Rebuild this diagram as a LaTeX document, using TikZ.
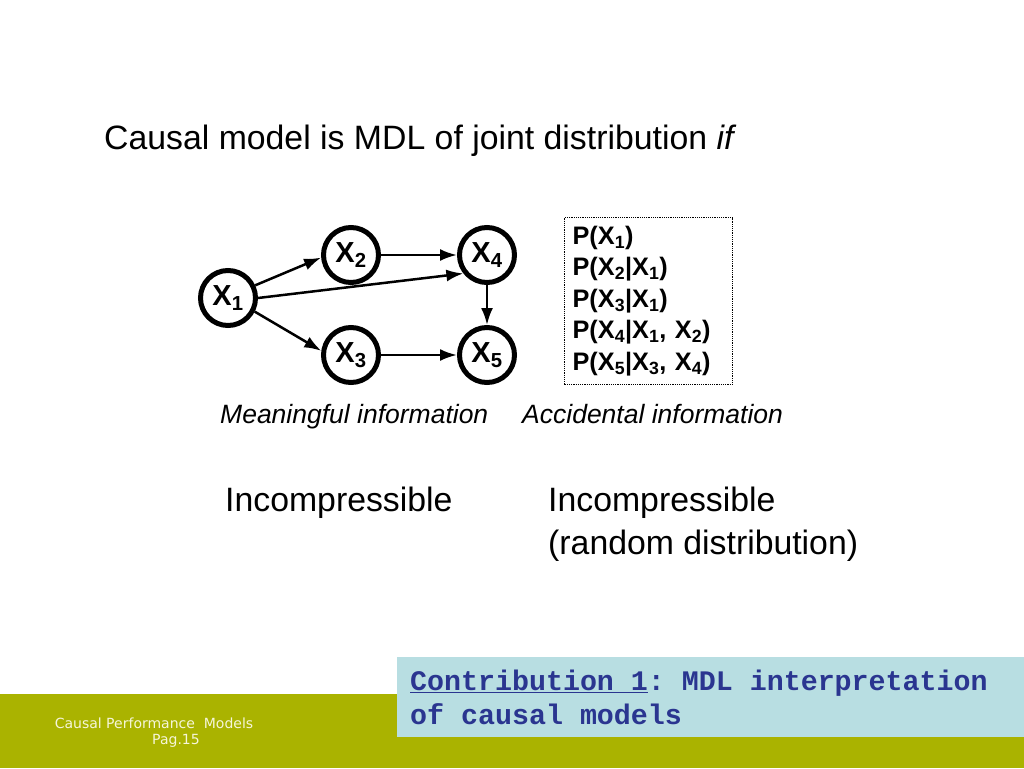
\documentclass[tikz,border=0pt]{standalone}
\usepackage{fontspec}
\setmainfont{Liberation Sans}
\setmonofont{Liberation Mono}
\newfontfamily\footfont{DejaVu Sans}
\usetikzlibrary{arrows.meta,positioning}
\definecolor{bandgreen}{HTML}{AAB300}
\definecolor{notebg}{HTML}{B8DEE2}
\definecolor{notetext}{HTML}{2A3590}
\definecolor{foottext}{HTML}{F6F6DA}
\newcommand{\xv}[1]{X\textsubscript{#1}}
\newcommand{\tsp}{\hspace*{0.6em}}

\begin{document}
\begin{tikzpicture}[
  x=1pt, y=-1pt,
  txt/.style={anchor=base west, inner sep=0pt, font=\fontsize{33.8}{43}\selectfont},
  lbl/.style={anchor=base west, inner sep=0pt, font=\fontsize{26.5}{31}\selectfont\itshape},
  var/.style={circle, draw, line width=5pt, minimum size=55pt, inner sep=0pt, font=\fontsize{29}{30}\selectfont\bfseries},
  cpt/.style={draw, densely dotted, line width=1.2pt, anchor=north west, align=left, text width=152pt, inner xsep=8pt, minimum height=167pt, font=\fontsize{25.3}{31.5}\selectfont\bfseries},
  note/.style={fill=notebg, anchor=north west, align=left, text width=601pt, inner xsep=13pt, minimum height=80pt, text=notetext, font=\ttfamily\bfseries\fontsize{28.3}{34}\selectfont},
  foot/.style={inner sep=0pt, text=foottext, font=\footfont\fontsize{14}{16}\selectfont},
  ar/.style={-{Latex[length=17pt,width=12pt]}, line width=2.5pt}
]
  \useasboundingbox (0,0) rectangle (1024,768);
  \fill[bandgreen] (0,694) rectangle (1024,768);

  \node[txt] (title) at (104,149) {Causal model is MDL of joint distribution \textit{if}};

  \node[var] (x1) at (228,298) {\xv{1}};
  \node[var] (x2) at (351,255) {\xv{2}};
  \node[var] (x3) at (351,355) {\xv{3}};
  \node[var] (x4) at (487,255) {\xv{4}};
  \node[var] (x5) at (487,355) {\xv{5}};

  \draw[ar] (x1.25) -- (x2.185);
  \draw[ar] (x1.-27) -- (x3.172);
  \draw[ar] (x1.east) -- (x4.218);
  \draw[ar] (x2) -- (x4);
  \draw[ar] (x3) -- (x5);
  \draw[ar] (x4) -- (x5);

  \node[cpt] (tables) at (564,217) {P(\xv{1})\\ P(\xv{2}|\xv{1})\\ P(\xv{3}|\xv{1})\\ P(\xv{4}|\xv{1}, \xv{2})\\ P(\xv{5}|\xv{3}, \xv{4})};

  \node[lbl] (meaning) at (220,423) {Meaningful information};
  \node[lbl] (accident) at (522,423) {Accidental information};

  \node[txt] (incomp) at (225,511) {Incompressible};
  \node[txt, align=left] (random) at (548,554) {Incompressible\\(random distribution)};

  \node[note] (contrib) at (397,657) {\underline{Contribution\tsp1}:\tsp MDL\tsp interpretation\\of\tsp causal\tsp models};

  \node[foot] (footer) at (154,723) {Causal Performance\ \ Models};
  \node[foot] (page) at (176,741) {Pag.15};
\end{tikzpicture}
\end{document}
